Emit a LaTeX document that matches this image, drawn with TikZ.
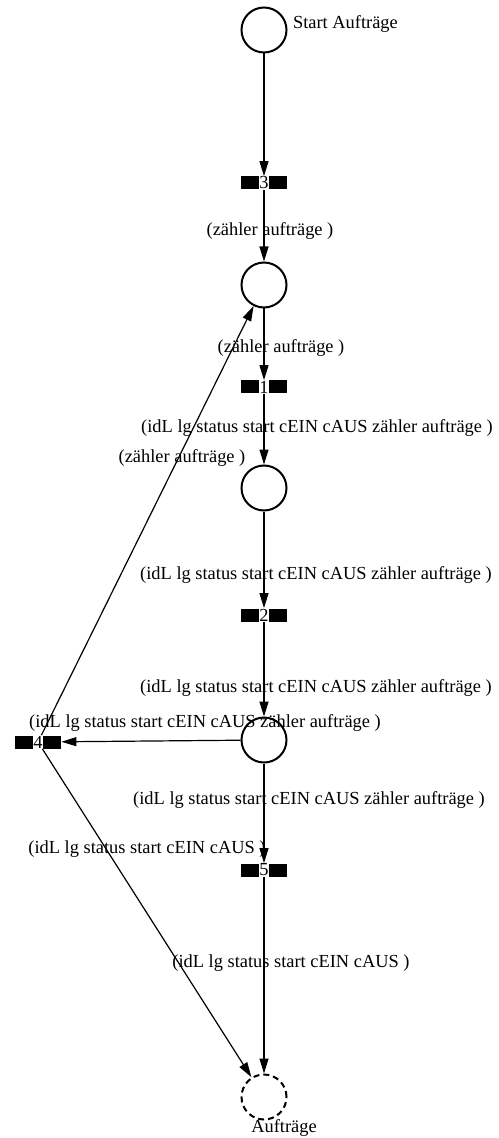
\documentclass[tikz,border=0pt]{standalone}
\usepackage{fontspec}
\setmainfont{Liberation Serif}
\usetikzlibrary{arrows.meta}

\begin{document}
\begin{tikzpicture}[x=.5pt, y=-.5pt, >={Triangle[length=7.5pt,width=4.5pt]},
    every node/.style={font=\fontsize{9.2}{11}\selectfont},
    place/.style={circle, draw, line width=1pt, minimum size=22.5pt, inner sep=0pt},
    trans/.style={inner sep=0pt, minimum width=23pt, minimum height=6.5pt,
      path picture={
        \fill (path picture bounding box.north west) rectangle ([xshift=9pt]path picture bounding box.south west);
        \fill (path picture bounding box.north east) rectangle ([xshift=-9pt]path picture bounding box.south east);}},
    arc/.style={->, line width=.6pt}]
  \useasboundingbox (0,0) rectangle (498,1138);

  % places
  \node[place] (start) at (264,30) {};
  \node[place] (p2)    at (264,285) {};
  \node[place] (p3)    at (264,488) {};
  \node[place] (p4)    at (264,740) {};
  \node[place, dash pattern=on 3pt off 2pt] (ende) at (264,1097) {};

  % transitions
  \foreach \n/\y in {3/183, 1/387, 2/615, 5/870}
    \node[trans] (t\n) at (264,\y) {\n};
  \node[trans] (t4) at (38,742) {4};

  % arcs
  \draw[arc] (start) -- (t3);
  \draw[arc] (t3) -- (p2);
  \draw[arc] (p2) -- (t1);
  \draw[arc] (t1) -- (p3);
  \draw[arc] (p3) -- (t2);
  \draw[arc] (t2) -- (p4);
  \draw[arc] (p4) -- (t4);
  \draw[arc] (t4) -- (p2);
  \draw[arc] (p4) -- (t5);
  \draw[arc] (t4) -- (ende);
  \draw[arc] (t5) -- (ende);

  % labels
  \node[anchor=west] (lstart) at (286,24) {Start Aufträge};
  \node (lende) at (284,1128) {Aufträge};
  \node (l3out) at (270,231) {(zähler aufträge )};
  \node (l1in)  at (281,348) {(zähler aufträge )};
  \node (l1out) at (317,428) {(idL lg status start cEIN cAUS zähler aufträge )};
  \node (l4out) at (182,458) {(zähler aufträge )};
  \node (l2in)  at (316,575) {(idL lg status start cEIN cAUS zähler aufträge )};
  \node (l2out) at (316,688) {(idL lg status start cEIN cAUS zähler aufträge )};
  \node (l4in)  at (205,723) {(idL lg status start cEIN cAUS zähler aufträge )};
  \node (l5in)  at (309,800) {(idL lg status start cEIN cAUS zähler aufträge )};
  \node (l4end) at (147,849) {(idL lg status start cEIN cAUS )};
  \node (l5out) at (291,963) {(idL lg status start cEIN cAUS )};
\end{tikzpicture}
\end{document}
